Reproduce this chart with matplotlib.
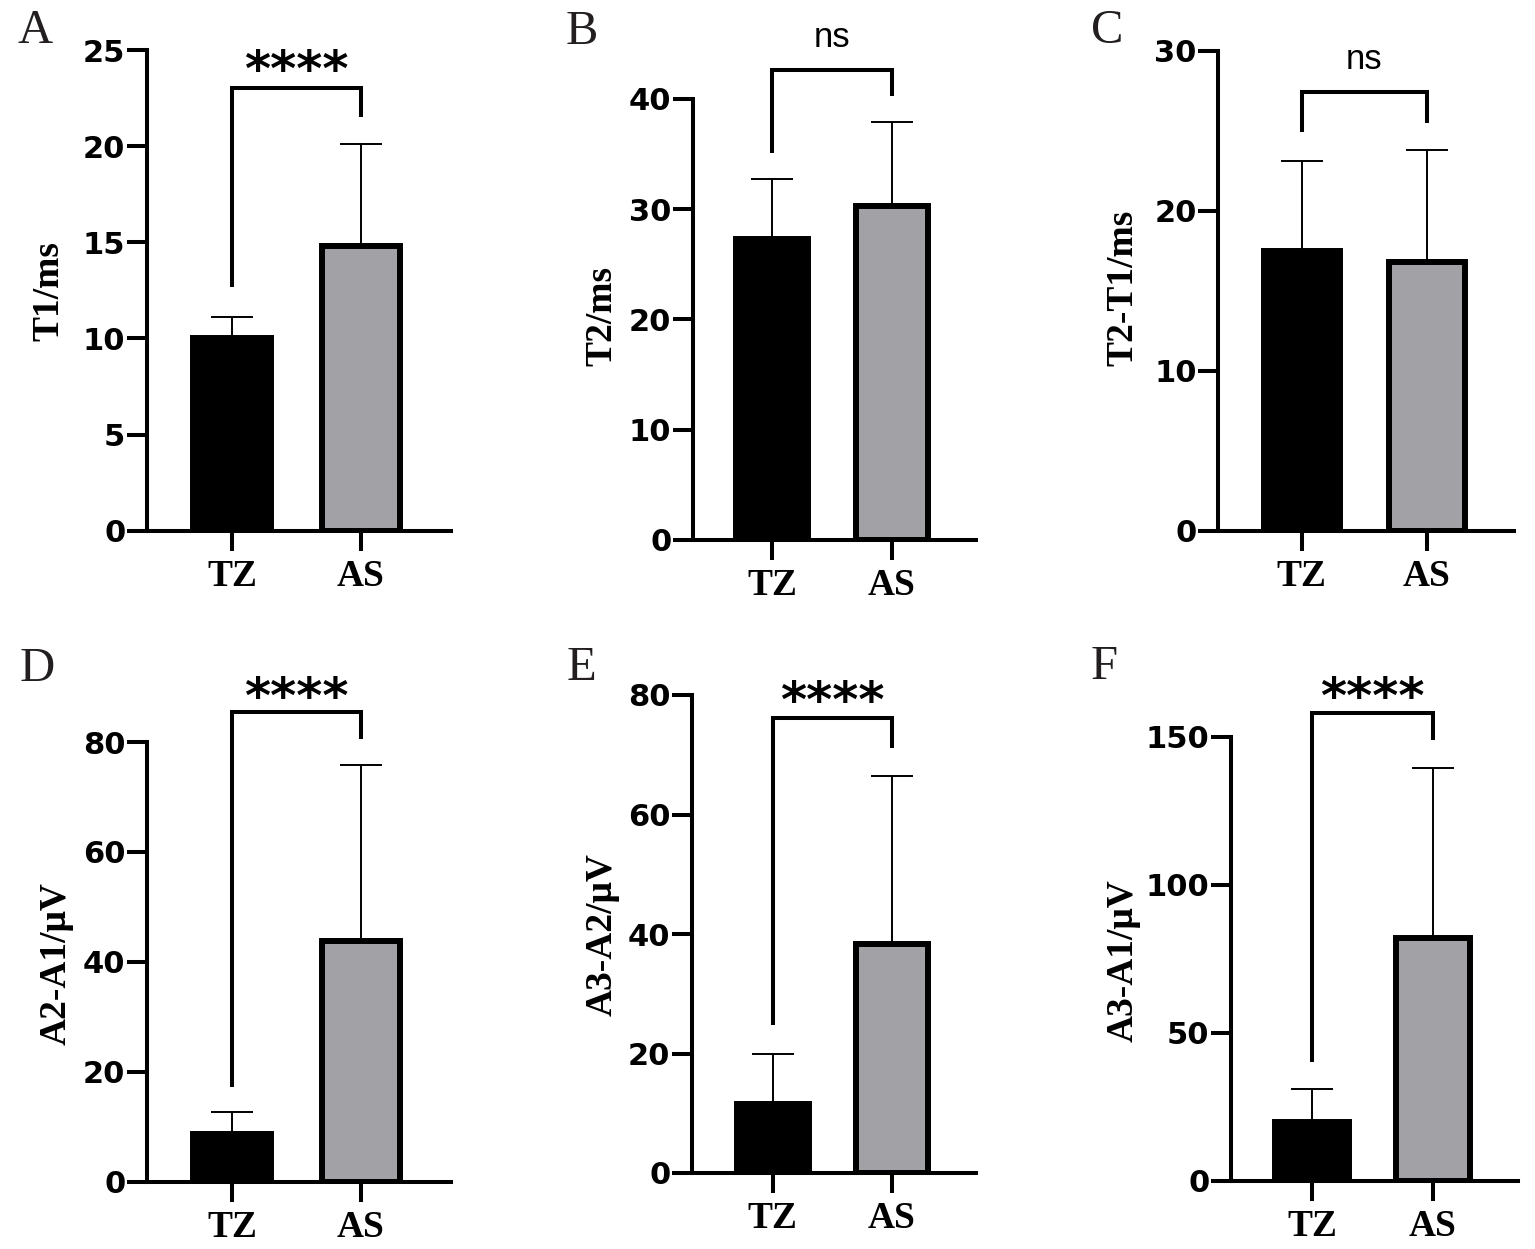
import matplotlib
matplotlib.use("Agg")
import matplotlib.pyplot as plt
import numpy as np

# ---------------- data ----------------
categories = ["TZ", "AS"]
panel_letters = ["A", "B", "C", "D", "E", "F"]
ylabels = ["T1/ms", "T2/ms", "T2-T1/ms", "A2-A1/\u03bcV", "A3-A2/\u03bcV", "A3-A1/\u03bcV"]

means_A = [10.0, 14.8]
sd_A = [1.1, 5.3]
means_B = [27.3, 30.3]
sd_B = [5.4, 7.6]
means_C = [17.5, 16.8]
sd_C = [5.6, 7.0]
means_D = [8.6, 43.8]
sd_D = [4.0, 32.0]
means_E = [11.6, 38.4]
sd_E = [8.3, 28.0]
means_F = [20.0, 82.0]
sd_F = [11.0, 57.5]

yticks_A = [0, 5, 10, 15, 20, 25]
yticks_B = [0, 10, 20, 30, 40]
yticks_C = [0, 10, 20, 30]
yticks_D = [0, 20, 40, 60, 80]
yticks_E = [0, 20, 40, 60, 80]
yticks_F = [0, 50, 100, 150]

sig_labels = ["****", "ns", "ns", "****", "****", "****"]
# bracket: top level, left leg end, right leg end, label level
brackets = [
    (23.0, 12.7, 21.5, 24.6),
    (42.6, 35.1, 40.3, 45.5),
    (27.4, 24.9, 25.5, 29.4),
    (85.5, 17.3, 80.5, 90.4),
    (76.1, 24.7, 71.1, 81.1),
    (158.0, 40.0, 148.7, 167.7),
]

means = [means_A, means_B, means_C, means_D, means_E, means_F]
sds = [sd_A, sd_B, sd_C, sd_D, sd_E, sd_F]
yticks = [yticks_A, yticks_B, yticks_C, yticks_D, yticks_E, yticks_F]

# ---------------- layout (pixels) ----------------
W, H = 1535, 1249
# y-axis x, x-axis y, tick1 x, tick2 x, right end x, top tick y
layout = [
    (146.7, 530.7, 232.0, 361.0, 450.7, 50.0),
    (692.7, 540.0, 772.0, 892.0, 976.0, 99.0),
    (1218.0, 531.0, 1301.7, 1427.0, 1514.0, 50.5),
    (146.7, 1181.7, 232.0, 361.0, 450.7, 742.0),
    (691.7, 1173.0, 772.7, 892.0, 976.0, 695.0),
    (1231.0, 1181.0, 1312.0, 1433.0, 1518.0, 736.5),
]
ylabel_pos = [(49, 291), (602, 316), (1123, 288), (56, 964), (602, 935), (1123, 961)]
letter_pos = [(35, 31), (582, 32), (1107, 31), (37, 669), (581, 668), (1104, 667)]

fig = plt.figure(figsize=(W / 100, H / 100), dpi=100)
fig.patch.set_facecolor("white")

SPINE_LW = 2.9
GRAY = "#a2a2a6"

for i in range(6):
    yx, xy, t1, t2, rx, ty = layout[i]
    ax = fig.add_axes([yx / W, 1 - xy / H, (rx - yx) / W, (xy - ty) / H])
    sp = t2 - t1
    ax.set_xlim(-(t1 - yx) / sp, 1 + (rx - t2) / sp)
    ax.set_ylim(0, yticks[i][-1])
    x = np.arange(len(categories))
    m = means[i]
    s = sds[i]
    ax.errorbar(x, m, yerr=[[0, 0], s], fmt="none", ecolor="black",
                elinewidth=1.4, capsize=15, capthick=1.4, zorder=1)
    ax.bar(x, m, width=0.605, color=["black", GRAY], edgecolor="black",
           linewidth=4.3, zorder=2)
    for side in ["top", "right"]:
        ax.spines[side].set_visible(False)
    for side in ["left", "bottom"]:
        ax.spines[side].set_linewidth(SPINE_LW)
        ax.spines[side].set_capstyle("projecting")
    ax.set_yticks(yticks[i])
    ax.set_yticklabels([str(v) for v in yticks[i]],
                       fontfamily="DejaVu Sans", fontweight="bold", fontsize=22)
    ax.set_xticks(x)
    ax.set_xticklabels(categories, fontfamily="Liberation Serif",
                       fontweight="bold", fontsize=27)
    ax.tick_params(axis="y", length=14.4, width=SPINE_LW, pad=1)
    ax.tick_params(axis="x", length=14.4, width=SPINE_LW, pad=6)

    # significance bracket
    top, l_end, r_end, lab = brackets[i]
    ax.plot([x[0], x[0], x[1], x[1]], [l_end, top, top, r_end], color="black",
            lw=2.9, clip_on=False, solid_joinstyle="miter", solid_capstyle="butt")
    if sig_labels[i] == "ns":
        ax.annotate("ns", xy=(0.5, lab), xytext=(0, -6.5), textcoords="offset points",
                    ha="center", va="baseline", fontsize=25,
                    fontfamily="Liberation Sans", annotation_clip=False)
    else:
        ax.annotate(sig_labels[i], xy=(0.5, lab), xytext=(0, -20.5),
                    textcoords="offset points", ha="center", va="baseline",
                    fontsize=36, fontweight="heavy", fontfamily="DejaVu Sans",
                    annotation_clip=False)

    lx, ly = ylabel_pos[i]
    fig.text(lx / W, 1 - ly / H, ylabels[i], rotation=90, ha="center", va="center",
             fontfamily="Liberation Serif", fontweight="bold", fontsize=27)
    px, py = letter_pos[i]
    fig.text(px / W, 1 - py / H, panel_letters[i], ha="center", va="center",
             fontfamily="Liberation Serif", fontsize=35, color="#231f20")

fig.savefig("out.png", dpi=100, facecolor="white")
